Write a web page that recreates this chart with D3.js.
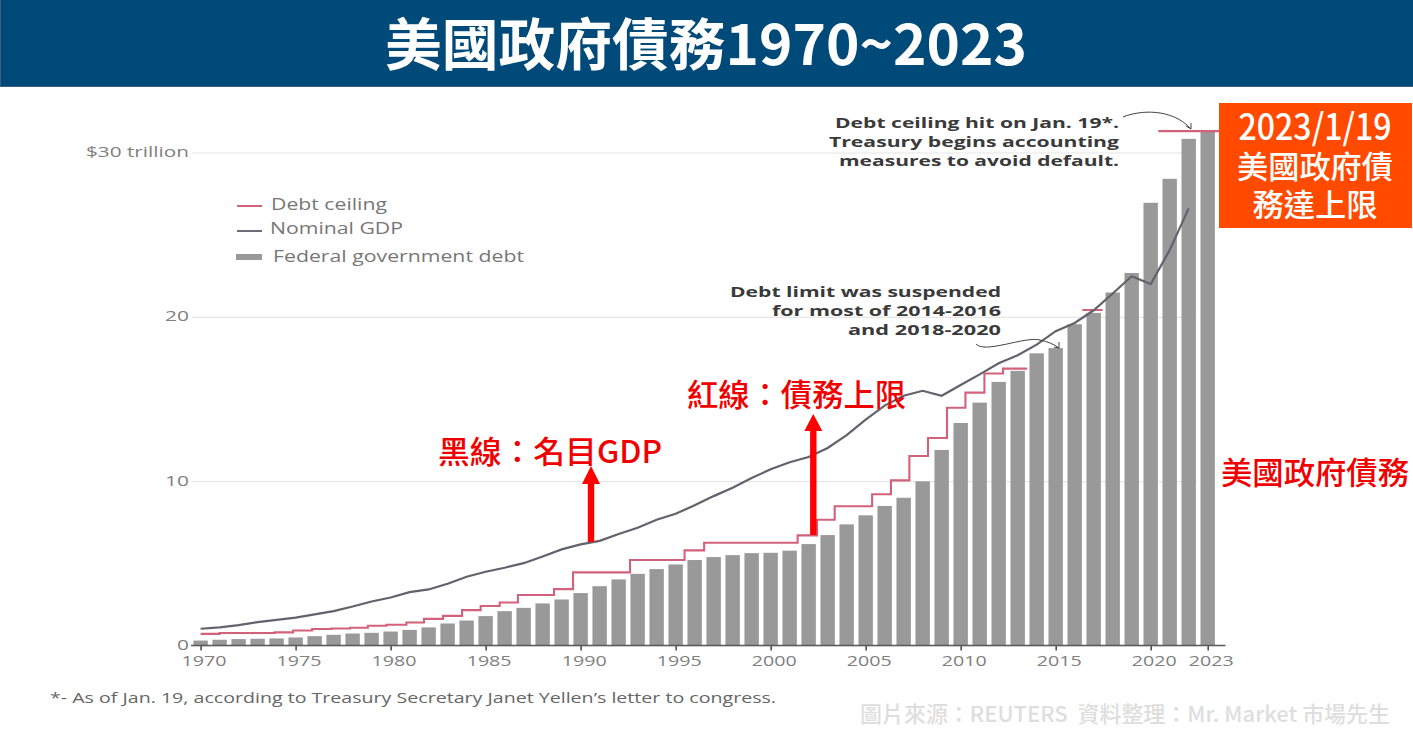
<!DOCTYPE html>
<html lang="zh-Hant">
<head>
<meta charset="utf-8">
<script src="https://cdn.jsdelivr.net/npm/d3@7/dist/d3.min.js"></script>
<style>
html,body{margin:0;padding:0;background:#fff;overflow:hidden}
svg{display:block}
text{font-family:"Open Sans","Noto Sans",sans-serif}
.cjk{font-family:"Noto Sans CJK TC","Noto Sans",sans-serif;white-space:pre}
</style>
</head>
<body>
<svg id="c" width="1413" height="740"></svg>
<script>
const years = d3.range(1970, 2024);
const debt = [0.30,0.35,0.39,0.41,0.43,0.49,0.57,0.65,0.73,0.77,0.85,0.95,1.10,1.34,1.52,1.79,2.09,2.29,2.56,2.80,3.19,3.61,4.02,4.36,4.65,4.93,5.20,5.38,5.50,5.62,5.64,5.77,6.17,6.72,7.37,7.92,8.49,8.99,9.99,11.90,13.54,14.78,16.04,16.71,17.78,18.10,19.55,20.24,21.48,22.67,26.94,28.40,30.83,31.25];
const gdpYears = d3.range(1970, 2023);
const gdp = [1.02,1.10,1.24,1.42,1.56,1.70,1.89,2.09,2.37,2.68,2.92,3.25,3.41,3.76,4.18,4.49,4.73,5.01,5.42,5.85,6.15,6.37,6.78,7.17,7.65,8.02,8.53,9.09,9.60,10.19,10.72,11.15,11.47,12.02,12.80,13.74,14.60,15.20,15.50,15.20,15.85,16.50,17.17,17.66,18.31,19.13,19.63,20.40,21.42,22.47,21.99,24.06,26.60];
const ceilingYears = [1970,1971,1973.9,1974.87,1975.87,1976.89,1977.87,1978.8,1979.78,1980.83,1981.76,1982.76,1983.76,1984.74,1985.74,1986.7,1988.6,1989.6,1992.6,1995.47,1996.5,2001.42,2002.44,2003.37,2005.34,2006.33,2007.3,2008.28,2009.28,2010.25,2011.25,2012.23,2013.5,2013.5,2016.4,2017.47,2017.47,2020.4,2023.6];
const ceilingValues = [0.71,0.76,0.80,0.91,1.00,1.03,1.08,1.20,1.26,1.40,1.62,1.80,2.15,2.40,2.62,3.07,3.43,4.45,5.20,5.79,6.25,6.70,7.65,8.47,9.20,10.05,11.53,12.63,14.47,15.39,16.55,16.85,16.85,null,20.42,20.42,null,31.30,31.30];
const xTickYears = [1970,1975,1980,1985,1990,1995,2000,2005,2010,2015,2020,2023];
const yTicks = [0,10,20,30];
const yTickLabels = ["0","10","20","$30 trillion"];

const svg = d3.select("#c");
const x = d3.scaleLinear().domain([1970,2023]).range([200.6,1207.7]);
const y = d3.scaleLinear().domain([0,30]).range([645.5,152.5]);
const barW = 14.4;

// header
svg.append("rect").attr("width",1413).attr("height",87).attr("fill","#3f5f80");
svg.append("rect").attr("x",1).attr("width",1412).attr("height",86).attr("fill","#004a7a");
svg.append("text").attr("class","cjk").attr("x",385).attr("y",65)
  .attr("font-size",56).attr("font-weight",700).attr("fill","#fff")
  .attr("textLength",642).attr("lengthAdjust","spacingAndGlyphs").text("美國政府債務1970~2023");

// y axis grid and labels
const yAxis = d3.axisLeft(y).tickValues(yTicks).tickSize(-1005).tickPadding(3)
  .tickFormat((d,i)=>yTickLabels[i]);
const yg = svg.append("g").attr("transform","translate(192,0)").call(yAxis);
yg.select(".domain").remove();
yg.selectAll(".tick line").attr("stroke","#e6e6e6").attr("stroke-width",1.2);
yg.selectAll(".tick text").attr("font-size",15).attr("fill","#808080").attr("dy","0.27em")
  .attr("textLength",(d)=>d===30?103:d===0?12:24).attr("lengthAdjust","spacingAndGlyphs");

// bars
svg.append("g").selectAll("rect").data(years).join("rect")
  .attr("x",d=>x(d)-barW/2).attr("width",barW)
  .attr("y",(d,i)=>y(debt[i])).attr("height",(d,i)=>y(0)-y(debt[i]))
  .attr("fill","#999999");

// ceiling
const ceilingLine = d3.line().x(d=>x(d[0])).y(d=>y(d[1])).defined(d=>d[1]!==null).curve(d3.curveStepAfter);
svg.append("path").datum(ceilingYears.map((d,i)=>[d,ceilingValues[i]]))
  .attr("d",ceilingLine).attr("fill","none").attr("stroke","#d2627c").attr("stroke-width",2.1);

// gdp
const gdpLine = d3.line().x(d=>x(d[0])).y(d=>y(d[1]));
svg.append("path").datum(gdpYears.map((d,i)=>[d,gdp[i]]))
  .attr("d",gdpLine).attr("fill","none").attr("stroke","#62626c").attr("stroke-width",2.2);

// x axis
const xAxis = d3.axisBottom(x).tickValues(xTickYears).tickFormat(d3.format("d")).tickSize(5).tickPadding(5);
const xg = svg.append("g").attr("transform","translate(0,645.5)").call(xAxis);
xg.select(".domain").remove();
xg.append("line").attr("x1",191).attr("x2",1225.5).attr("stroke","#5a5a5a").attr("stroke-width",1.6);
xg.selectAll(".tick line").attr("stroke","#444").attr("stroke-width",1.5);
xg.selectAll(".tick text").attr("font-size",15).attr("fill","#808080").attr("dx",3)
  .attr("textLength",45).attr("lengthAdjust","spacingAndGlyphs");

// legend
svg.append("line").attr("x1",237).attr("x2",262).attr("y1",206).attr("y2",206).attr("stroke","#d2627c").attr("stroke-width",2);
svg.append("line").attr("x1",237).attr("x2",262).attr("y1",231).attr("y2",231).attr("stroke","#5d5d68").attr("stroke-width",1.8);
svg.append("rect").attr("x",236).attr("y",254).attr("width",26).attr("height",6).attr("fill","#999999");
const legendLabels = [["Debt ceiling",271,209.5,116],["Nominal GDP",270,233.5,133],["Federal government debt",273,262,251]];
svg.append("g").selectAll("text").data(legendLabels).join("text")
  .attr("x",d=>d[1]).attr("y",d=>d[2]).attr("font-size",15.5).attr("fill","#777")
  .attr("textLength",d=>d[3]).attr("lengthAdjust","spacingAndGlyphs").text(d=>d[0]);

// english annotations
const notes = [["Debt ceiling hit on Jan. 19*.",835,128,284],["Treasury begins accounting",829,147,290],["measures to avoid default.",839,166,280],
  ["Debt limit was suspended",730,297,271],["for most of 2014-2016",772,316,229],["and 2018-2020",848,335,153]];
svg.append("g").selectAll("text").data(notes).join("text")
  .attr("x",d=>d[1]).attr("y",d=>d[2]).attr("font-size",15).attr("font-weight",700).attr("fill","#3a3a3a")
  .attr("textLength",d=>d[3]).attr("lengthAdjust","spacingAndGlyphs").text(d=>d[0]);
svg.append("path").attr("d","M1123,117C1140,110 1172,108 1191,129").attr("fill","none").attr("stroke","#444").attr("stroke-width",1);
svg.append("path").attr("d","M1186,126L1191,129L1191,123").attr("fill","none").attr("stroke","#444").attr("stroke-width",1);
svg.append("path").attr("d","M976,344C985,354 1025,336 1040,340C1048,342 1054,344 1059,348").attr("fill","none").attr("stroke","#444").attr("stroke-width",1);
svg.append("path").attr("d","M1054,347L1059,348L1059,342").attr("fill","none").attr("stroke","#444").attr("stroke-width",1);

// footnote
svg.append("text").attr("x",50).attr("y",703).attr("font-size",15).attr("fill","#666")
  .attr("textLength",726).attr("lengthAdjust","spacingAndGlyphs")
  .text("*- As of Jan. 19, according to Treasury Secretary Janet Yellen’s letter to congress.");
svg.append("text").attr("class","cjk").attr("x",860).attr("y",722).attr("font-size",22).attr("font-weight",500).attr("fill","#dedede")
  .attr("textLength",530).attr("lengthAdjust","spacingAndGlyphs")
  .text("圖片來源：REUTERS  資料整理：Mr. Market 市場先生");

// red arrows
const arrowPath = (cx,bottom,top,hb)=>`M${cx-3.2},${bottom}L${cx-3.2},${hb}L${cx-9},${hb}L${cx},${top}L${cx+9},${hb}L${cx+3.2},${hb}L${cx+3.2},${bottom}Z`;
svg.append("path").attr("d",arrowPath(591,542,466,484)).attr("fill","#ff0000");
svg.append("path").attr("d",arrowPath(813.3,535,414,431)).attr("fill","#ff0000");

// red labels
const redLabels = [["黑線：名目GDP",438,463,224],["紅線：債務上限",687,406,219],["美國政府債務",1221,484,188]];
svg.append("g").selectAll("text").data(redLabels).join("text").attr("class","cjk")
  .attr("x",d=>d[1]).attr("y",d=>d[2]).attr("font-size",31).attr("font-weight",500).attr("fill","#f00000")
  .attr("textLength",d=>d[3]).attr("lengthAdjust","spacingAndGlyphs").text(d=>d[0]);

// orange box
svg.append("rect").attr("x",1219).attr("y",103).attr("width",193).attr("height",125).attr("fill","#ff4a00");
const boxLines = [["2023/1/19",140,36,153],["美國政府債",178,31,156],["務達上限",216,31,125]];
svg.append("g").selectAll("text").data(boxLines).join("text").attr("class","cjk")
  .attr("x",d=>1315-d[3]/2).attr("y",d=>d[1]).attr("font-size",d=>d[2]).attr("font-weight",500).attr("fill","#fff")
  .attr("textLength",d=>d[3]).attr("lengthAdjust","spacingAndGlyphs").text(d=>d[0]);
</script>
</body>
</html>
